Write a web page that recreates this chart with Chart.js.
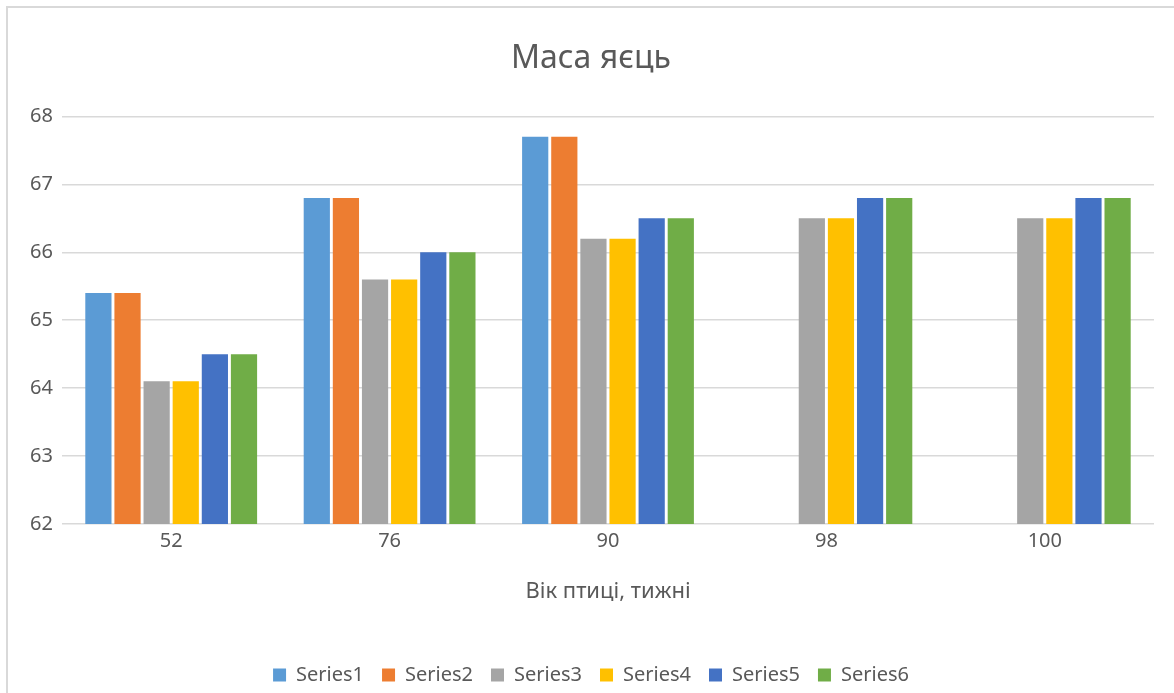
<!DOCTYPE html>
<html>
<head>
<meta charset="utf-8">
<script src="https://cdn.jsdelivr.net/npm/chart.js@4"></script>
<style>
    body { margin: 0; overflow: hidden; background: #fff; width: 1174px; height: 693px; }
    #frame { position: absolute; left: 6px; top: 6px; width: 1200px; height: 720px; border: 2px solid #d9d9d9; }
    #wrap { position: absolute; left: 0; top: 0; width: 1174px; height: 700px; }
</style>
</head>
<body>
<div id="frame"></div>
<div id="wrap"><canvas id="eggChart" width="1174" height="700"></canvas></div>
<script>
// Вік птиці (тижні)
const categories = ['52', '76', '90', '98', '100'];

const series1 = [65.4, 66.8, 67.7, null, null];
const series2 = [65.4, 66.8, 67.7, null, null];
const series3 = [64.1, 65.6, 66.2, 66.5, 66.5];
const series4 = [64.1, 65.6, 66.2, 66.5, 66.5];
const series5 = [64.5, 66.0, 66.5, 66.8, 66.8];
const series6 = [64.5, 66.0, 66.5, 66.8, 66.8];

const seriesNames = ['Series1', 'Series2', 'Series3', 'Series4', 'Series5', 'Series6'];
const seriesColors = ['#5B9BD5', '#ED7D31', '#A5A5A5', '#FFC000', '#4472C4', '#70AD47'];

const yMin = 62;
const yMax = 68;

const textColor = '#595959';
const gridColor = '#d9d9d9';
const fontFamily = "'Noto Sans', 'Open Sans', sans-serif";

const allSeries = [series1, series2, series3, series4, series5, series6];

new Chart(document.getElementById('eggChart'), {
    type: 'bar',
    data: {
        labels: categories,
        datasets: allSeries.map((values, i) => ({
            label: seriesNames[i],
            data: values,
            backgroundColor: seriesColors[i],
            borderWidth: 0
        }))
    },
    options: {
        responsive: false,
        animation: false,
        layout: { padding: { left: 28, right: 20, top: 0, bottom: 5 } },
        plugins: {
            title: {
                display: true,
                text: 'Маса яєць',
                color: textColor,
                font: { family: fontFamily, size: 32, weight: 'normal' },
                padding: { top: 40, bottom: 38 }
            },
            legend: {
                position: 'bottom',
                labels: {
                    color: textColor,
                    font: { family: fontFamily, size: 20 },
                    boxWidth: 13,
                    boxHeight: 13,
                    padding: 18
                }
            },
            tooltip: { enabled: false }
        },
        scales: {
            x: {
                grid: { display: false, drawTicks: false },
                border: { display: false },
                ticks: {
                    color: textColor,
                    font: { family: fontFamily, size: 20 },
                    padding: 5
                },
                title: {
                    display: true,
                    text: 'Вік птиці, тижні',
                    color: textColor,
                    font: { family: fontFamily, size: 22 },
                    padding: { top: 0, bottom: 42 }
                },
                afterFit: (scale) => { scale.height = 123; }
            },
            y: {
                min: yMin,
                max: yMax,
                border: { display: false },
                grid: { color: gridColor, lineWidth: 1.5, drawTicks: false },
                ticks: {
                    stepSize: 1,
                    color: textColor,
                    font: { family: fontFamily, size: 20 },
                    padding: 9
                },
                afterFit: (scale) => { scale.width = 34; }
            }
        }
    }
});
</script>
</body>
</html>
